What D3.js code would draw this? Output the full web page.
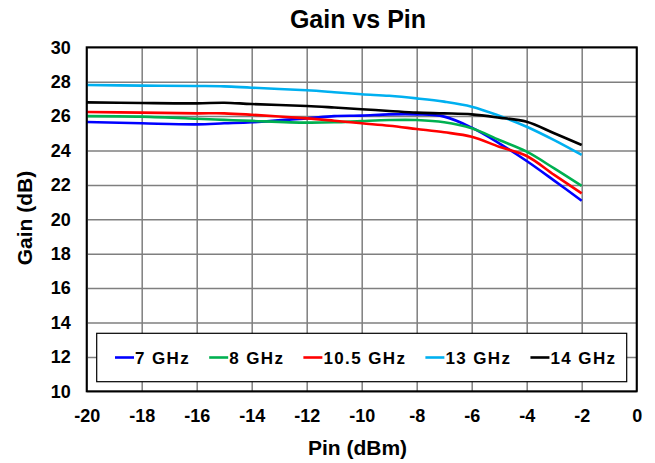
<!DOCTYPE html>
<html>
<head>
<meta charset="utf-8">
<script src="https://cdn.jsdelivr.net/npm/d3@7"></script>
<style>
  body { margin: 0; background: #fff; }
  text { font-family: "Liberation Sans", Arial, sans-serif; font-weight: bold; fill: #000; }
</style>
</head>
<body>
<svg id="chart" width="655" height="463"></svg>
<script>
// ---- data ----
const pin = [-20, -18, -16, -15, -14, -12, -11, -10, -9, -8, -7, -6, -5, -4, -3, -2];
const gain7   = [25.66, 25.58, 25.52, 25.58, 25.64, 25.87, 26.00, 26.03, 26.10, 26.10, 25.97, 25.33, 24.42, 23.39, 22.25, 21.08];
const gain8   = [26.00, 25.97, 25.85, 25.78, 25.72, 25.62, 25.64, 25.71, 25.77, 25.77, 25.64, 25.29, 24.61, 23.93, 22.96, 21.94];
const gain105 = [26.24, 26.20, 26.16, 26.16, 26.08, 25.87, 25.73, 25.58, 25.44, 25.25, 25.06, 24.80, 24.22, 23.68, 22.58, 21.51];
const gain13  = [27.81, 27.77, 27.75, 27.73, 27.65, 27.50, 27.39, 27.27, 27.18, 27.03, 26.84, 26.55, 26.02, 25.38, 24.60, 23.74];
const gain14  = [26.80, 26.76, 26.74, 26.78, 26.70, 26.59, 26.50, 26.40, 26.30, 26.20, 26.16, 26.10, 25.91, 25.67, 25.00, 24.32];
const seriesNames = ["7 GHz", "8 GHz", "10.5 GHz", "13 GHz", "14 GHz"];
const seriesColors = ["#0000FF", "#00B050", "#FF0000", "#00B0F0", "#000000"];
const xTicks = [-20, -18, -16, -14, -12, -10, -8, -6, -4, -2, 0];
const yTicks = [10, 12, 14, 16, 18, 20, 22, 24, 26, 28, 30];

const seriesValues = [gain7, gain8, gain105, gain13, gain14];
const series = seriesNames.map((name, i) => ({
  name, color: seriesColors[i],
  values: pin.map((p, j) => ({ x: p, y: seriesValues[i][j] }))
}));

// ---- layout ----
const svg = d3.select("#chart");
const m = { left: 86.7, top: 47.3, right: 636.7, bottom: 391.3 };
const W = m.right - m.left, H = m.bottom - m.top;

const x = d3.scaleLinear().domain([-20, 0]).range([m.left, m.right]);
const y = d3.scaleLinear().domain([10, 30]).range([m.bottom, m.top]);
const fmt = d => String(d);

// grid
svg.append("g")
  .attr("transform", `translate(0,${m.bottom})`)
  .call(d3.axisBottom(x).tickValues(xTicks).tickSize(-H).tickFormat(""))
  .call(g => g.select(".domain").remove())
  .call(g => g.selectAll("line").attr("stroke", "#7f7f7f").attr("stroke-width", 1.5));
svg.append("g")
  .attr("transform", `translate(${m.left},0)`)
  .call(d3.axisLeft(y).tickValues(yTicks).tickSize(-W).tickFormat(""))
  .call(g => g.select(".domain").remove())
  .call(g => g.selectAll("line").attr("stroke", "#7f7f7f").attr("stroke-width", 1.5));

// lines
const line = d3.line().x(d => x(d.x)).y(d => y(d.y)).curve(d3.curveCatmullRom.alpha(0.5));
svg.append("g").selectAll("path").data(series).join("path")
  .attr("d", d => line(d.values))
  .attr("fill", "none")
  .attr("stroke", d => d.color)
  .attr("stroke-width", 2.6);

// border
svg.append("rect")
  .attr("x", m.left).attr("y", m.top).attr("width", W).attr("height", H)
  .attr("fill", "none").attr("stroke", "#000").attr("stroke-width", 2);

// axes labels
svg.append("g")
  .attr("transform", `translate(${m.left},0)`)
  .call(d3.axisLeft(y).tickValues(yTicks).tickSize(0).tickPadding(16).tickFormat(fmt))
  .call(g => g.select(".domain").remove())
  .call(g => g.selectAll("text").style("font-size", "18px").style("font-family", null).attr("fill", "#000"));
svg.append("g")
  .attr("transform", `translate(0,${m.bottom})`)
  .call(d3.axisBottom(x).tickValues(xTicks).tickSize(0).tickPadding(18).tickFormat(fmt))
  .call(g => g.select(".domain").remove())
  .call(g => g.selectAll("text").style("font-size", "18px").style("font-family", null).attr("fill", "#000"));

// titles
svg.append("text").attr("x", 358).attr("y", 28).attr("text-anchor", "middle")
  .style("font-size", "25px").text("Gain vs Pin");
svg.append("text").attr("x", 357.5).attr("y", 455).attr("text-anchor", "middle")
  .style("font-size", "21px").text("Pin (dBm)");
svg.append("text").attr("transform", "translate(32,218) rotate(-90)").attr("text-anchor", "middle")
  .style("font-size", "21px").text("Gain (dB)");

// legend
const lg = svg.append("g");
lg.append("rect").attr("x", 96.7).attr("y", 333.3).attr("width", 530).attr("height", 48.4)
  .attr("fill", "#fff").attr("stroke", "#000").attr("stroke-width", 1.2);
let lx = 115;
series.forEach(s => {
  lg.append("line").attr("x1", lx).attr("x2", lx + 19).attr("y1", 357.5).attr("y2", 357.5)
    .attr("stroke", s.color).attr("stroke-width", 2.6);
  const t = lg.append("text").attr("x", lx + 20).attr("y", 363.5)
    .style("font-size", "17px").style("letter-spacing", "1.4px").text(s.name);
  lx += 20 + t.node().getComputedTextLength() + 19;
});
</script>
</body>
</html>
